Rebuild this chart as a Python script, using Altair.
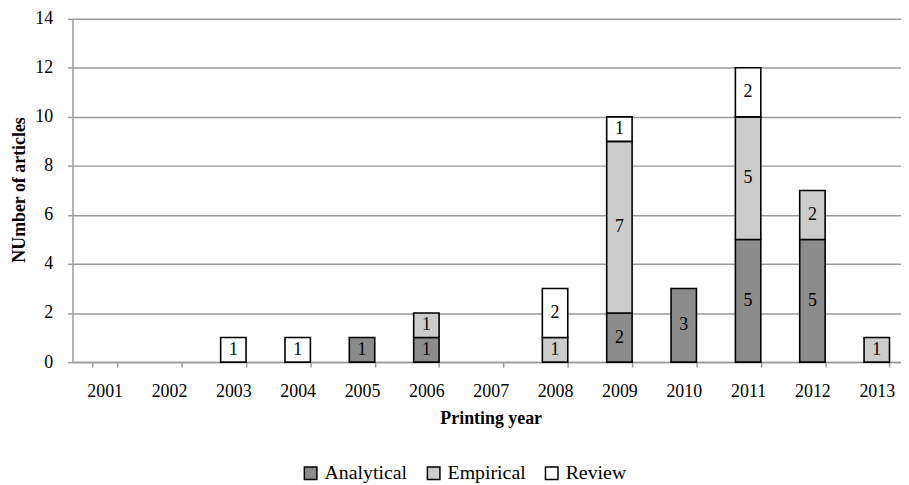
import altair as alt
import pandas as pd

years = [str(y) for y in range(2001, 2014)]
categories = ["Analytical", "Empirical", "Review"]
analytical = [0, 0, 0, 0, 1, 1, 0, 0, 2, 3, 5, 5, 0]
empirical = [0, 0, 0, 0, 0, 1, 0, 1, 7, 0, 5, 2, 1]
review = [0, 0, 1, 1, 0, 0, 0, 2, 1, 0, 2, 0, 0]
colors = ["#8c8c8c", "#cccccc", "#ffffff"]

rows = []
for i, y in enumerate(years):
    for k, (cat, vals) in enumerate(zip(categories, [analytical, empirical, review])):
        if vals[i] > 0:
            rows.append({"year": y, "type": cat, "count": vals[i], "order": k})
df = pd.DataFrame(rows)

FONT = "Liberation Serif"
GRAY = "#9a9a9a"
FS = 18

x_enc = alt.X(
    "year:N",
    scale=alt.Scale(domain=years, paddingInner=0.605, paddingOuter=0.3025),
    axis=alt.Axis(
        title="Printing year",
        labelAngle=0,
        tickBand="extent",
        grid=False,
        domainColor=GRAY,
        domainWidth=1.5,
        tickColor=GRAY,
        tickWidth=1.5,
        tickSize=5,
        labelFontSize=FS,
        labelPadding=25,
        labelBaseline="middle",
        labelColor="#000000",
        titleFontSize=FS,
        titleFontWeight="bold",
        titleColor="#000000",
        titleBaseline="middle",
        titleY=57,
    ),
)

bars = alt.Chart(df).mark_bar(stroke="black", strokeWidth=1.6).encode(
    x=x_enc,
    y=alt.Y(
        "count:Q",
        stack="zero",
        scale=alt.Scale(domain=[0, 14], nice=False),
        axis=alt.Axis(
            title="NUmber of articles",
            values=list(range(0, 15, 2)),
            grid=True,
            gridColor=GRAY,
            gridWidth=1.5,
            domainColor=GRAY,
            domainWidth=1.5,
            tickColor=GRAY,
            tickWidth=1.5,
            tickSize=5,
            labelFontSize=FS,
            labelPadding=15,
            labelColor="#000000",
            titleFontSize=FS,
            titleFontWeight="bold",
            titleColor="#000000",
            titleBaseline="middle",
            titleX=-53,
            titleY=172,
        ),
    ),
    color=alt.Color(
        "type:N",
        scale=alt.Scale(domain=categories, range=colors),
        legend=alt.Legend(
            title=None,
            orient="none",
            legendX=230,
            legendY=448,
            direction="horizontal",
            columns=3,
            gridAlign="none",
            symbolType="square",
            symbolSize=160,
            symbolStrokeColor="black",
            symbolStrokeWidth=1.5,
            labelFontSize=20,
            labelColor="#000000",
            labelOffset=4,
            columnPadding=16,
        ),
    ),
    order=alt.Order("order:Q"),
)

labels = alt.Chart(df).transform_stack(
    stack="count", groupby=["year"], sort=[alt.SortField("order")], as_=["y0", "y1"]
).transform_calculate(
    mid="(datum.y0 + datum.y1) / 2"
).mark_text(fontSize=FS, font=FONT, color="#000000", baseline="middle").encode(
    x=alt.X("year:N", scale=alt.Scale(domain=years, paddingInner=0.605, paddingOuter=0.3025)),
    y=alt.Y("mid:Q"),
    text=alt.Text("count:Q"),
)

chart = alt.layer(bars, labels).properties(
    width=843,
    height=346,
    autosize=alt.AutoSizeParams(type="none"),
    padding={"left": 65, "top": 9, "right": -8, "bottom": 120},
).configure(font=FONT).configure_view(stroke=None)

chart.save("out.html", embed_options={"renderer": "svg", "actions": False})
